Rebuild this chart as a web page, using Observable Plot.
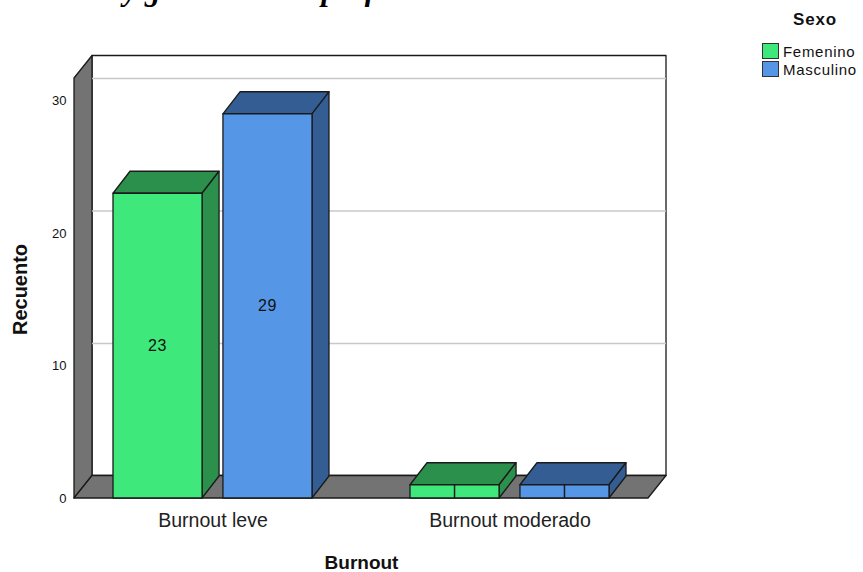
<!DOCTYPE html>
<html><head><meta charset="utf-8">
<script src="https://cdn.jsdelivr.net/npm/d3@7"></script>
<script src="https://cdn.jsdelivr.net/npm/@observablehq/plot@0.6"></script>
<style>
body{margin:0;background:#fff;}
#wrap{position:relative;width:863px;height:572px;overflow:hidden;font-family:Arial,"Liberation Sans",sans-serif;}
#chart{position:absolute;left:0;top:0;}
#title{position:absolute;left:28px;top:-26px;font:italic bold 31px/31px "Liberation Serif","Times New Roman",serif;white-space:nowrap;color:#000;}
#legend{position:absolute;left:760px;top:9px;width:103px;}
#legend .t{font-weight:bold;font-size:17px;letter-spacing:0.8px;margin-left:33px;margin-bottom:11px;color:#111;line-height:22px;}
#legend .r{display:flex;align-items:center;height:18px;font-size:15px;letter-spacing:0.7px;color:#111;}
#legend .s{width:15px;height:14px;border:1px solid #333;margin-right:4px;margin-left:2px;flex:none;}
</style></head>
<body><div id="wrap"><div id="chart"></div><div id="title"></div><div id="legend"></div></div>
<script>
const titleText = "mental y género de los profesores";
const categories = ["Burnout leve", "Burnout moderado"];
const series = ["Femenino", "Masculino"];
const femenino = [23, 1];
const masculino = [29, 1];
const yTicks = [0, 10, 20, 30];
const xLabel = "Burnout";
const yLabel = "Recuento";
const legendTitle = "Sexo";

const frontColors = ["#3fe87b", "#5597e6"];
const darkColors = ["#2a904c", "#345e93"];
const WALL = "#737373";
const WDX = 18, WDY = -22.5;   // wall depth
const BDX = 17, BDY = -22;     // bar depth

const seriesValues = [femenino, masculino];
const data = categories.flatMap((c, i) => series.map((s, j) => ({category: c, sexo: s, value: seriesValues[j][i]})));

function poly(g, pts, fill) {
  g.append("polygon").attr("points", pts.map(p => p.join(",")).join(" "))
    .attr("fill", fill).attr("stroke", "#1a1a1a").attr("stroke-width", 1.3).attr("stroke-linejoin", "round");
}

function walls(index, scales, values, dim) {
  const {marginLeft: L, marginRight: R, marginTop: T, width: W} = dim;
  const x0 = L, x1 = W - R, y0 = scales.y(0), yT = T;
  const g = d3.create("svg:g");
  poly(g, [[x0 + WDX, yT + WDY], [x1 + WDX, yT + WDY], [x1 + WDX, y0 + WDY], [x0 + WDX, y0 + WDY]], "#ffffff");
  poly(g, [[x0, y0], [x0, yT], [x0 + WDX, yT + WDY], [x0 + WDX, y0 + WDY]], WALL);
  poly(g, [[x0, y0], [x0 + WDX, y0 + WDY], [x1 + WDX, y0 + WDY], [x1, y0]], WALL);
  return g.node();
}

function bars(index, scales, values, dim) {
  const g = d3.create("svg:g");
  const bw = scales.x.bandwidth();
  const sub = d3.scaleBand().domain(series).range([0, bw]).paddingInner(0.19).paddingOuter(0);
  const y0 = scales.y(0);
  for (const d of data) {
    const j = series.indexOf(d.sexo);
    const xa = scales.x(d.category) + sub(d.sexo), xb = xa + sub.bandwidth();
    const yt = scales.y(d.value);
    poly(g, [[xa, yt], [xb, yt], [xb + BDX, yt + BDY], [xa + BDX, yt + BDY]], darkColors[j]);
    poly(g, [[xb, y0], [xb, yt], [xb + BDX, yt + BDY], [xb + BDX, y0 + BDY]], darkColors[j]);
    poly(g, [[xa, y0], [xb, y0], [xb, yt], [xa, yt]], frontColors[j]);
    const cx = (xa + xb) / 2, cy = (y0 + yt) / 2;
    if (y0 - yt > 20) {
      g.append("text").attr("x", cx).attr("y", cy).attr("text-anchor", "middle")
        .attr("dominant-baseline", "central").attr("font-size", 16).attr("letter-spacing", "0.6px")
        .attr("fill", "#111").text(d.value);
    } else {
      g.append("line").attr("x1", cx).attr("x2", cx).attr("y1", y0).attr("y2", yt)
        .attr("stroke", "#1a1a1a").attr("stroke-width", 1.5);
    }
  }
  return g.node();
}

const chart = Plot.plot({
  width: 863,
  height: 572,
  marginLeft: 74,
  marginRight: 215,
  marginTop: 78,
  marginBottom: 74,
  style: {fontFamily: "Arial, 'Liberation Sans', sans-serif", fontSize: "12px", background: "transparent", overflow: "visible", color: "#111"},
  x: {type: "band", domain: categories, paddingInner: 0.33, paddingOuter: 0.129, axis: null},
  y: {domain: [0, 31.7], axis: null},
  marks: [
    walls,
    Plot.ruleY(yTicks.filter(t => t > 0), {dx: WDX, dy: WDY, stroke: "#c8c8c8", strokeWidth: 1.5}),
    bars,
    Plot.text(yTicks, {y: d => d, text: d => String(d), frameAnchor: "left", dx: -8, textAnchor: "end", lineAnchor: "middle", fontSize: 13, letterSpacing: "0.5px", fill: "#111"}),
    Plot.text(categories, {x: d => d, text: d => d, frameAnchor: "bottom", dy: 22, textAnchor: "middle", lineAnchor: "middle", fontSize: 19.5, letterSpacing: "0.8px", fill: "#222"}),
    Plot.text([xLabel], {text: d => d, frameAnchor: "bottom", dy: 64, textAnchor: "middle", lineAnchor: "middle", fontSize: 19, letterSpacing: "1px", fontWeight: "bold", fill: "#111"}),
    Plot.text([yLabel], {text: d => d, frameAnchor: "left", rotate: -90, dx: -54, dy: 1, textAnchor: "middle", lineAnchor: "middle", fontSize: 20, letterSpacing: "0.8px", fontWeight: "bold", fill: "#111"})
  ]
});
document.getElementById("chart").appendChild(chart);
document.getElementById("title").textContent = titleText;

const lg = document.getElementById("legend");
lg.innerHTML = `<div class="t">${legendTitle}</div>` +
  series.map((s, j) => `<div class="r"><div class="s" style="background:${frontColors[j]}"></div>${s}</div>`).join("");
</script>
</body></html>
